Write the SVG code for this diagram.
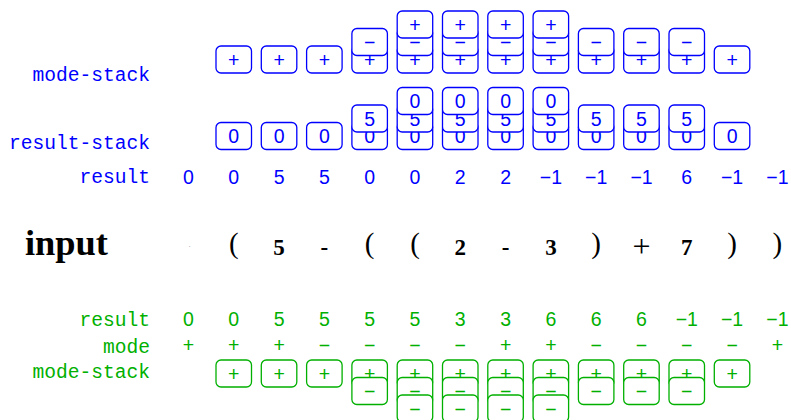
<svg xmlns="http://www.w3.org/2000/svg" width="791" height="420" viewBox="0 0 791 420">
<style>
.lbl{font-family:"Liberation Mono",monospace;font-size:19.6px;text-anchor:end}
.num{font-family:"Liberation Sans",Arial,sans-serif;font-size:19.5px;text-anchor:middle}
.b{fill:#0000ff}
.g{fill:#00b000}
.bb rect{fill:#fff;stroke:#0000ff;stroke-width:1.3}
.gb rect{fill:#fff;stroke:#00b000;stroke-width:1.3}
.tok{font-family:"Liberation Serif","Times New Roman",serif;font-size:23px;text-anchor:middle;fill:#000}
.tb{font-weight:bold}
.par{font-size:29px}
.pl{font-size:32px}
.dot{font-size:8px;fill:#999}
</style>
<rect width="791" height="420" fill="#fff"/>

<!-- Blue labels -->
<g id="blue-labels">
<text class="lbl b" x="150" y="81">mode-stack</text>
<text class="lbl b" x="150" y="149">result-stack</text>
<text class="lbl b" x="150" y="183">result</text>
</g>

<!-- Blue mode-stack -->
<g id="blue-mode-stack" class="bb">
<g id="bm1"><rect x="216" y="46" width="35.5" height="27" rx="5"/><text class="num b" x="233.8" y="66.6">+</text></g>
<g id="bm2"><rect x="261.3" y="46" width="35.5" height="27" rx="5"/><text class="num b" x="279.1" y="66.6">+</text></g>
<g id="bm3"><rect x="306.6" y="46" width="35.5" height="27" rx="5"/><text class="num b" x="324.4" y="66.6">+</text></g>
<g id="bm4">
<rect x="351.9" y="46" width="35.5" height="27" rx="5"/><text class="num b" x="369.7" y="66.6">+</text>
<rect x="351.9" y="28.5" width="35.5" height="27" rx="5"/><text class="num b" x="369.7" y="49.1">−</text>
</g>
<g id="bm5">
<rect x="397.2" y="46" width="35.5" height="27" rx="5"/><text class="num b" x="415" y="66.6">+</text>
<rect x="397.2" y="28.5" width="35.5" height="27" rx="5"/><text class="num b" x="415" y="49.1">−</text>
<rect x="397.2" y="11" width="35.5" height="27" rx="5"/><text class="num b" x="415" y="31.6">+</text>
</g>
<g id="bm6">
<rect x="442.5" y="46" width="35.5" height="27" rx="5"/><text class="num b" x="460.3" y="66.6">+</text>
<rect x="442.5" y="28.5" width="35.5" height="27" rx="5"/><text class="num b" x="460.3" y="49.1">−</text>
<rect x="442.5" y="11" width="35.5" height="27" rx="5"/><text class="num b" x="460.3" y="31.6">+</text>
</g>
<g id="bm7">
<rect x="487.8" y="46" width="35.5" height="27" rx="5"/><text class="num b" x="505.6" y="66.6">+</text>
<rect x="487.8" y="28.5" width="35.5" height="27" rx="5"/><text class="num b" x="505.6" y="49.1">−</text>
<rect x="487.8" y="11" width="35.5" height="27" rx="5"/><text class="num b" x="505.6" y="31.6">+</text>
</g>
<g id="bm8">
<rect x="533.1" y="46" width="35.5" height="27" rx="5"/><text class="num b" x="550.9" y="66.6">+</text>
<rect x="533.1" y="28.5" width="35.5" height="27" rx="5"/><text class="num b" x="550.9" y="49.1">−</text>
<rect x="533.1" y="11" width="35.5" height="27" rx="5"/><text class="num b" x="550.9" y="31.6">+</text>
</g>
<g id="bm9">
<rect x="578.4" y="46" width="35.5" height="27" rx="5"/><text class="num b" x="596.2" y="66.6">+</text>
<rect x="578.4" y="28.5" width="35.5" height="27" rx="5"/><text class="num b" x="596.2" y="49.1">−</text>
</g>
<g id="bm10">
<rect x="623.7" y="46" width="35.5" height="27" rx="5"/><text class="num b" x="641.5" y="66.6">+</text>
<rect x="623.7" y="28.5" width="35.5" height="27" rx="5"/><text class="num b" x="641.5" y="49.1">−</text>
</g>
<g id="bm11">
<rect x="669" y="46" width="35.5" height="27" rx="5"/><text class="num b" x="686.8" y="66.6">+</text>
<rect x="669" y="28.5" width="35.5" height="27" rx="5"/><text class="num b" x="686.8" y="49.1">−</text>
</g>
<g id="bm12"><rect x="714.3" y="46" width="35.5" height="27" rx="5"/><text class="num b" x="732.1" y="66.6">+</text></g>
</g>

<!-- Blue result-stack -->
<g id="blue-result-stack" class="bb">
<g id="br1"><rect x="216" y="122.5" width="35.5" height="27" rx="5"/><text class="num b" x="233.8" y="143.1">0</text></g>
<g id="br2"><rect x="261.3" y="122.5" width="35.5" height="27" rx="5"/><text class="num b" x="279.1" y="143.1">0</text></g>
<g id="br3"><rect x="306.6" y="122.5" width="35.5" height="27" rx="5"/><text class="num b" x="324.4" y="143.1">0</text></g>
<g id="br4">
<rect x="351.9" y="122.5" width="35.5" height="27" rx="5"/><text class="num b" x="369.7" y="143.1">0</text>
<rect x="351.9" y="105" width="35.5" height="27" rx="5"/><text class="num b" x="369.7" y="125.6">5</text>
</g>
<g id="br5">
<rect x="397.2" y="122.5" width="35.5" height="27" rx="5"/><text class="num b" x="415" y="143.1">0</text>
<rect x="397.2" y="105" width="35.5" height="27" rx="5"/><text class="num b" x="415" y="125.6">5</text>
<rect x="397.2" y="87.5" width="35.5" height="27" rx="5"/><text class="num b" x="415" y="108.1">0</text>
</g>
<g id="br6">
<rect x="442.5" y="122.5" width="35.5" height="27" rx="5"/><text class="num b" x="460.3" y="143.1">0</text>
<rect x="442.5" y="105" width="35.5" height="27" rx="5"/><text class="num b" x="460.3" y="125.6">5</text>
<rect x="442.5" y="87.5" width="35.5" height="27" rx="5"/><text class="num b" x="460.3" y="108.1">0</text>
</g>
<g id="br7">
<rect x="487.8" y="122.5" width="35.5" height="27" rx="5"/><text class="num b" x="505.6" y="143.1">0</text>
<rect x="487.8" y="105" width="35.5" height="27" rx="5"/><text class="num b" x="505.6" y="125.6">5</text>
<rect x="487.8" y="87.5" width="35.5" height="27" rx="5"/><text class="num b" x="505.6" y="108.1">0</text>
</g>
<g id="br8">
<rect x="533.1" y="122.5" width="35.5" height="27" rx="5"/><text class="num b" x="550.9" y="143.1">0</text>
<rect x="533.1" y="105" width="35.5" height="27" rx="5"/><text class="num b" x="550.9" y="125.6">5</text>
<rect x="533.1" y="87.5" width="35.5" height="27" rx="5"/><text class="num b" x="550.9" y="108.1">0</text>
</g>
<g id="br9">
<rect x="578.4" y="122.5" width="35.5" height="27" rx="5"/><text class="num b" x="596.2" y="143.1">0</text>
<rect x="578.4" y="105" width="35.5" height="27" rx="5"/><text class="num b" x="596.2" y="125.6">5</text>
</g>
<g id="br10">
<rect x="623.7" y="122.5" width="35.5" height="27" rx="5"/><text class="num b" x="641.5" y="143.1">0</text>
<rect x="623.7" y="105" width="35.5" height="27" rx="5"/><text class="num b" x="641.5" y="125.6">5</text>
</g>
<g id="br11">
<rect x="669" y="122.5" width="35.5" height="27" rx="5"/><text class="num b" x="686.8" y="143.1">0</text>
<rect x="669" y="105" width="35.5" height="27" rx="5"/><text class="num b" x="686.8" y="125.6">5</text>
</g>
<g id="br12"><rect x="714.3" y="122.5" width="35.5" height="27" rx="5"/><text class="num b" x="732.1" y="143.1">0</text></g>
</g>

<!-- Blue result row -->
<g id="blue-result" class="num b">
<text x="188.5" y="183.5">0</text>
<text x="233.8" y="183.5">0</text>
<text x="279.1" y="183.5">5</text>
<text x="324.4" y="183.5">5</text>
<text x="369.7" y="183.5">0</text>
<text x="415" y="183.5">0</text>
<text x="460.3" y="183.5">2</text>
<text x="505.6" y="183.5">2</text>
<text x="550.9" y="183.5">−1</text>
<text x="596.2" y="183.5">−1</text>
<text x="641.5" y="183.5">−1</text>
<text x="686.8" y="183.5">6</text>
<text x="732.1" y="183.5">−1</text>
<text x="777.4" y="183.5">−1</text>
</g>

<!-- Input row -->
<g id="input-row">
<text x="25" y="255" font-family="Liberation Serif,serif" font-weight="bold" font-size="35" textLength="83" lengthAdjust="spacingAndGlyphs">input</text>
<text class="tok dot" x="189.5" y="249">·</text>
<text class="tok par" x="233.8" y="253">(</text>
<text class="tok tb" x="279.1" y="255">5</text>
<text class="tok tb" x="324.4" y="255">-</text>
<text class="tok par" x="369.7" y="253">(</text>
<text class="tok par" x="415" y="253">(</text>
<text class="tok tb" x="460.3" y="255">2</text>
<text class="tok tb" x="505.6" y="255">-</text>
<text class="tok tb" x="550.9" y="255">3</text>
<text class="tok par" x="596.2" y="253">)</text>
<text class="tok pl" x="641.5" y="257">+</text>
<text class="tok tb" x="686.8" y="255">7</text>
<text class="tok par" x="732.1" y="253">)</text>
<text class="tok par" x="777.4" y="253">)</text>
</g>

<!-- Green labels -->
<g id="green-labels">
<text class="lbl g" x="150" y="326">result</text>
<text class="lbl g" x="150" y="353">mode</text>
<text class="lbl g" x="150" y="378">mode-stack</text>
</g>

<!-- Green result row -->
<g id="green-result" class="num g">
<text x="188.5" y="326">0</text>
<text x="233.8" y="326">0</text>
<text x="279.1" y="326">5</text>
<text x="324.4" y="326">5</text>
<text x="369.7" y="326">5</text>
<text x="415" y="326">5</text>
<text x="460.3" y="326">3</text>
<text x="505.6" y="326">3</text>
<text x="550.9" y="326">6</text>
<text x="596.2" y="326">6</text>
<text x="641.5" y="326">6</text>
<text x="686.8" y="326">−1</text>
<text x="732.1" y="326">−1</text>
<text x="777.4" y="326">−1</text>
</g>

<!-- Green mode row -->
<g id="green-mode" class="num g">
<text x="188.5" y="352">+</text>
<text x="233.8" y="352">+</text>
<text x="279.1" y="352">+</text>
<text x="324.4" y="352">−</text>
<text x="369.7" y="352">−</text>
<text x="415" y="352">−</text>
<text x="460.3" y="352">−</text>
<text x="505.6" y="352">+</text>
<text x="550.9" y="352">+</text>
<text x="596.2" y="352">−</text>
<text x="641.5" y="352">−</text>
<text x="686.8" y="352">−</text>
<text x="732.1" y="352">−</text>
<text x="777.4" y="352">+</text>
</g>

<!-- Green mode-stack -->
<g id="green-mode-stack" class="gb">
<g id="gm1"><rect x="216" y="360" width="35.5" height="27" rx="5"/><text class="num g" x="233.8" y="380.6">+</text></g>
<g id="gm2"><rect x="261.3" y="360" width="35.5" height="27" rx="5"/><text class="num g" x="279.1" y="380.6">+</text></g>
<g id="gm3"><rect x="306.6" y="360" width="35.5" height="27" rx="5"/><text class="num g" x="324.4" y="380.6">+</text></g>
<g id="gm4">
<rect x="351.9" y="360" width="35.5" height="27" rx="5"/><text class="num g" x="369.7" y="380.6">+</text>
<rect x="351.9" y="377.5" width="35.5" height="27" rx="5"/><text class="num g" x="369.7" y="398.1">−</text>
</g>
<g id="gm5">
<rect x="397.2" y="360" width="35.5" height="27" rx="5"/><text class="num g" x="415" y="380.6">+</text>
<rect x="397.2" y="377.5" width="35.5" height="27" rx="5"/><text class="num g" x="415" y="398.1">−</text>
<rect x="397.2" y="395" width="35.5" height="27" rx="5"/><text class="num g" x="415" y="415.6">−</text>
</g>
<g id="gm6">
<rect x="442.5" y="360" width="35.5" height="27" rx="5"/><text class="num g" x="460.3" y="380.6">+</text>
<rect x="442.5" y="377.5" width="35.5" height="27" rx="5"/><text class="num g" x="460.3" y="398.1">−</text>
<rect x="442.5" y="395" width="35.5" height="27" rx="5"/><text class="num g" x="460.3" y="415.6">−</text>
</g>
<g id="gm7">
<rect x="487.8" y="360" width="35.5" height="27" rx="5"/><text class="num g" x="505.6" y="380.6">+</text>
<rect x="487.8" y="377.5" width="35.5" height="27" rx="5"/><text class="num g" x="505.6" y="398.1">−</text>
<rect x="487.8" y="395" width="35.5" height="27" rx="5"/><text class="num g" x="505.6" y="415.6">−</text>
</g>
<g id="gm8">
<rect x="533.1" y="360" width="35.5" height="27" rx="5"/><text class="num g" x="550.9" y="380.6">+</text>
<rect x="533.1" y="377.5" width="35.5" height="27" rx="5"/><text class="num g" x="550.9" y="398.1">−</text>
<rect x="533.1" y="395" width="35.5" height="27" rx="5"/><text class="num g" x="550.9" y="415.6">−</text>
</g>
<g id="gm9">
<rect x="578.4" y="360" width="35.5" height="27" rx="5"/><text class="num g" x="596.2" y="380.6">+</text>
<rect x="578.4" y="377.5" width="35.5" height="27" rx="5"/><text class="num g" x="596.2" y="398.1">−</text>
</g>
<g id="gm10">
<rect x="623.7" y="360" width="35.5" height="27" rx="5"/><text class="num g" x="641.5" y="380.6">+</text>
<rect x="623.7" y="377.5" width="35.5" height="27" rx="5"/><text class="num g" x="641.5" y="398.1">−</text>
</g>
<g id="gm11">
<rect x="669" y="360" width="35.5" height="27" rx="5"/><text class="num g" x="686.8" y="380.6">+</text>
<rect x="669" y="377.5" width="35.5" height="27" rx="5"/><text class="num g" x="686.8" y="398.1">−</text>
</g>
<g id="gm12"><rect x="714.3" y="360" width="35.5" height="27" rx="5"/><text class="num g" x="732.1" y="380.6">+</text></g>
</g>
</svg>
